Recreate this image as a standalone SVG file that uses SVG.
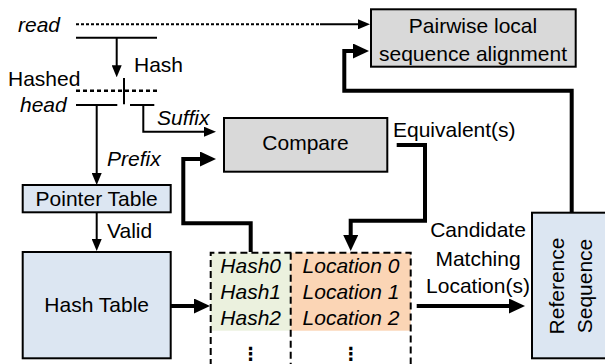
<svg xmlns="http://www.w3.org/2000/svg" width="605" height="364" viewBox="0 0 605 364">
  <style>
    text { font-family: "Liberation Sans", Arial, sans-serif; font-size: 21px; fill: #000; }
    .it { font-style: italic; }
    .mid { text-anchor: middle; }
    .box { stroke: #000; stroke-width: 2; }
    .gray { fill: #d9d9d9; }
    .blue { fill: #dce6f2; }
    .thin { fill: none; stroke: #000; stroke-width: 2; }
    .thick { fill: none; stroke: #000; stroke-width: 4; }
    .dotted { fill: none; stroke: #000; stroke-width: 2; stroke-dasharray: 3 2; }
    .dashed { fill: none; stroke: #000; stroke-width: 2.5; stroke-dasharray: 4 3; }
    .frame { fill: none; stroke: #000; stroke-width: 2; stroke-dasharray: 7 4; }
    .dots { font-family: "DejaVu Sans", sans-serif; font-size: 18px; font-weight: bold; text-anchor: middle; }
  </style>
  <defs>
    <marker id="ah" markerUnits="userSpaceOnUse" markerWidth="12" markerHeight="10" refX="4" refY="5" orient="auto">
      <path d="M0,0 L12,5 L0,10 z" fill="#000"/>
    </marker>
    <marker id="ahb" markerUnits="userSpaceOnUse" markerWidth="16" markerHeight="15" refX="5" refY="7.5" orient="auto">
      <path d="M0,0 L16,7.5 L0,15 z" fill="#000"/>
    </marker>
  </defs>

  <!-- read / hashed head labels and bars -->
  <g id="read">
    <text class="it" x="18" y="32">read</text>
    <path class="thin" d="M76,37.7 H157"/>
  </g>
  <g id="hashed-head">
    <text x="8" y="86">Hashed</text>
    <text class="it" x="20" y="112">head</text>
    <path class="dashed" d="M76,90.7 H158"/>
    <path class="thin" d="M124,78 V104.3 M76,105 H117.3 M130,105 H154.3"/>
  </g>

  <g id="pairwise">
    <rect class="box gray" x="371" y="9.3" width="204.7" height="57.4"/>
    <text class="mid" x="473" y="33">Pairwise local</text>
    <text class="mid" x="473" y="61">sequence alignment</text>
  </g>

  <g id="compare">
    <rect class="box gray" x="224" y="118" width="163.3" height="53.7"/>
    <text class="mid" x="305.5" y="150">Compare</text>
  </g>

  <g id="pointer-table">
    <rect class="box blue" x="22.7" y="185" width="148" height="27.3"/>
    <text class="mid" x="96.7" y="206">Pointer Table</text>
  </g>

  <g id="hash-table">
    <rect class="box blue" x="22.7" y="252" width="148" height="106.3"/>
    <text class="mid" x="96.7" y="312">Hash Table</text>
  </g>

  <g id="entries">
    <rect x="210.7" y="252.7" width="80" height="78" fill="#ebf1de"/>
    <rect x="290.7" y="252.7" width="120" height="78" fill="#fbd5b5"/>
    <path class="frame" d="M210.7,366 V252.7 H410.7 V366 M290.7,252.7 V366"/>
    <text class="it mid" x="250.7" y="273">Hash0</text>
    <text class="it mid" x="250.7" y="299">Hash1</text>
    <text class="it mid" x="250.7" y="325">Hash2</text>
    <text class="it mid" x="351" y="273">Location 0</text>
    <text class="it mid" x="351" y="299">Location 1</text>
    <text class="it mid" x="351" y="325">Location 2</text>
    <text class="dots" x="250.7" y="360">⋮</text>
    <text class="dots" x="351" y="360">⋮</text>
  </g>

  <g id="reference">
    <rect class="box blue" x="532" y="212.7" width="80" height="145.6"/>
    <text class="mid" transform="translate(564,286) rotate(-90)">Reference</text>
    <text class="mid" transform="translate(592,286) rotate(-90)">Sequence</text>
  </g>

  <g id="connectors">
    <path class="dotted" d="M76,24.3 H320"/>
    <path class="thin" d="M320,24.3 H362" marker-end="url(#ah)"/>
    <path class="thin" d="M116.7,37.7 V69.3" marker-end="url(#ah)"/>
    <path class="thin" d="M96.7,105 V177" marker-end="url(#ah)"/>
    <path class="thin" d="M143.3,105 V131.7 H208" marker-end="url(#ah)"/>
    <path class="thin" d="M96.7,212.3 V243" marker-end="url(#ah)"/>
    <path class="thick" d="M250.7,252 V223.3 H183.3 V159 H205" marker-end="url(#ahb)"/>
    <path class="thick" d="M396.7,145 H425 V220.7 H350.7 V240" marker-end="url(#ahb)"/>
    <path class="thick" d="M571.7,212.7 V90.7 H344.3 V51 H358" marker-end="url(#ahb)"/>
    <path class="thick" d="M170.7,306 H199" marker-end="url(#ahb)"/>
    <path class="thick" d="M416.7,306 H514" marker-end="url(#ahb)"/>
  </g>

  <g id="labels">
    <text x="134" y="72">Hash</text>
    <text class="it" x="157" y="125">Suffix</text>
    <text class="it" x="107" y="166">Prefix</text>
    <text x="107" y="238">Valid</text>
    <text x="393" y="137">Equivalent(s)</text>
    <text class="mid" x="478" y="237">Candidate</text>
    <text class="mid" x="478" y="266">Matching</text>
    <text class="mid" x="478" y="293">Location(s)</text>
  </g>
</svg>
